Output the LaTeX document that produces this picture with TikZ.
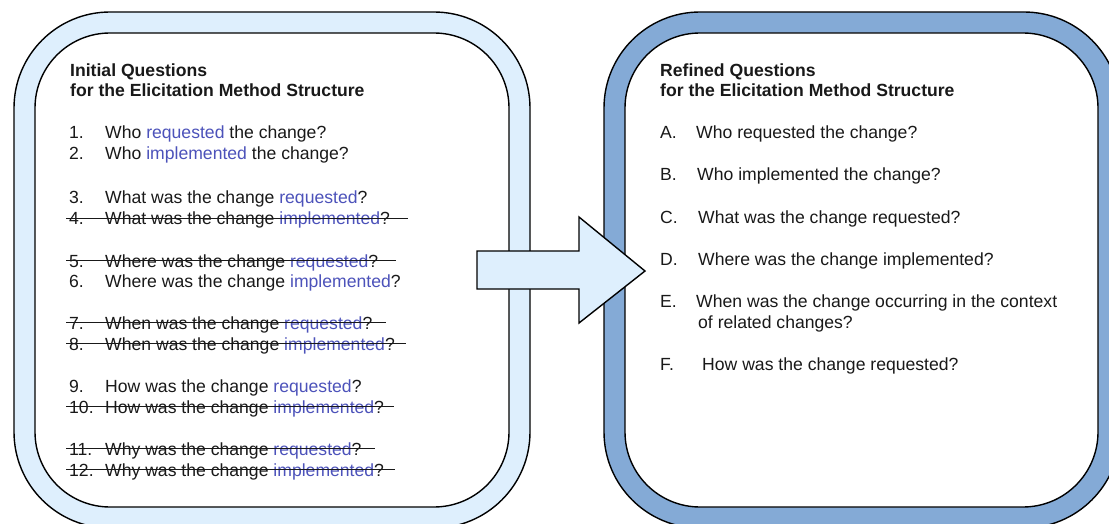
\documentclass[tikz,border=0pt]{standalone}
\usepackage{fontspec}
\setmainfont{Liberation Sans}
\definecolor{paleblue}{RGB}{222,239,253}
\definecolor{steelblue}{RGB}{132,170,214}
\definecolor{qblue}{RGB}{76,82,186}
\definecolor{ink}{RGB}{25,25,25}
\newcommand{\qreq}{\textcolor{qblue}{requested}}
\newcommand{\qimp}{\textcolor{qblue}{implemented}}
\begin{document}
\begin{tikzpicture}[x=1pt,y=-1pt,
  txt/.style={inner sep=0pt,anchor=base west,text=ink,font=\fontsize{17.6}{21}\selectfont},
  ttl/.style={txt,font=\fontsize{17.6}{21}\selectfont\bfseries},
  frame/.style={draw=black,line width=1.4pt,rounded corners=96pt},
  inner/.style={draw=black,line width=1.4pt,fill=white,rounded corners=75pt},
  strike/.style={draw=ink,line width=1.1pt}]
\useasboundingbox (0,0) rectangle (1109,524);
\clip (0,0) rectangle (1109,524);

% left panel
\draw[frame,fill=paleblue] (14,12) rectangle (530,528);
\draw[inner] (35,33) rectangle (509,507);
% right panel
\draw[frame,fill=steelblue] (604,12) rectangle (1120,528);
\draw[inner] (625,33) rectangle (1098,507);

% block arrow between the panels
\draw[line width=1.4pt,fill=paleblue,line join=miter]
  (477,251) -- (579,251) -- (579,217) -- (645,271) -- (579,323) -- (579,289) -- (477,289) -- cycle;

% left panel text
\node[ttl] (lt1) at (70,77) {Initial Questions};
\node[ttl] (lt2) at (70,97) {for the Elicitation Method Structure};

\node[txt] (n1) at (69,139) {1.};  \node[txt] (t1) at (105,139) {Who \qreq{} the change?};
\node[txt] (n2) at (69,160) {2.};  \node[txt] (t2) at (105,160) {Who \qimp{} the change?};
\node[txt] (n3) at (69,204) {3.};  \node[txt] (t3) at (105,204) {What was the change \qreq?};
\node[txt] (n4) at (69,225) {4.};  \node[txt] (t4) at (105,225) {What was the change \qimp?};
\node[txt] (n5) at (69,267) {5.};  \node[txt] (t5) at (105,267) {Where was the change \qreq?};
\node[txt] (n6) at (69,287) {6.};  \node[txt] (t6) at (105,287) {Where was the change \qimp?};
\node[txt] (n7) at (69,329) {7.};  \node[txt] (t7) at (105,329) {When was the change \qreq?};
\node[txt] (n8) at (69,350) {8.};  \node[txt] (t8) at (105,350) {When was the change \qimp?};
\node[txt] (n9) at (69,392) {9.};  \node[txt] (t9) at (105,392) {How was the change \qreq?};
\node[txt] (n10) at (69,413) {10.}; \node[txt] (t10) at (105,413) {How was the change \qimp?};
\node[txt] (n11) at (69,455) {11.}; \node[txt] (t11) at (105,455) {Why was the change \qreq?};
\node[txt] (n12) at (69,476) {12.}; \node[txt] (t12) at (105,476) {Why was the change \qimp?};

% struck-out questions
\foreach \k/\ext in {4/18,5/18,7/13,8/11,10/10,11/13,12/11}{
  \draw[strike] ([xshift=-3pt,yshift=6.5pt]n\k.base west) -- ([xshift=\ext pt,yshift=6.5pt]t\k.base east);
}

% right panel text
\node[ttl] (rt1) at (660,77) {Refined Questions};
\node[ttl] (rt2) at (660,97) {for the Elicitation Method Structure};

\node[txt] (la) at (660,139) {A.}; \node[txt] (qa) at (696,139) {Who requested the change?};
\node[txt] (lb) at (660,181) {B.}; \node[txt] (qb) at (697,181) {Who implemented the change?};
\node[txt] (lc) at (660,223) {C.}; \node[txt] (qc) at (698,223) {What was the change requested?};
\node[txt] (ld) at (660,265) {D.}; \node[txt] (qd) at (698,265) {Where was the change implemented?};
\node[txt] (le) at (660,307) {E.}; \node[txt] (qe) at (696,307) {When was the change occurring in the context};
\node[txt] (qe2) at (698,328) {of related changes?};
\node[txt] (lf) at (660,370) {F.}; \node[txt] (qf) at (702,370) {How was the change requested?};
\end{tikzpicture}
\end{document}
